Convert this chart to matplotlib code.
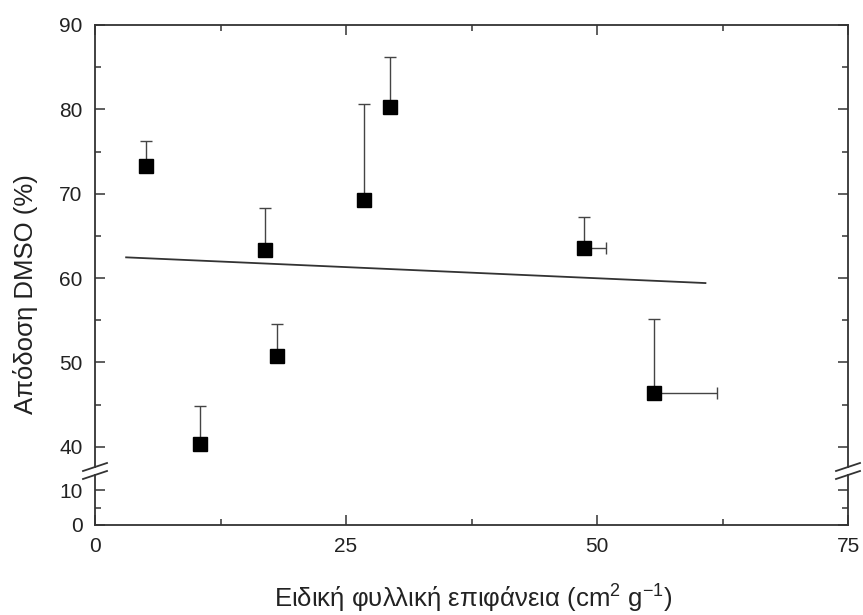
import matplotlib
matplotlib.use('Agg')
import matplotlib.pyplot as plt
from matplotlib.lines import Line2D
from matplotlib.ticker import MultipleLocator

plt.rcParams['font.family'] = ['Liberation Sans', 'DejaVu Sans']
plt.rcParams['mathtext.default'] = 'regular'

# Data
leaf_area = [5.05, 10.5, 16.9, 18.1, 26.8, 29.4, 48.7, 55.7]
dmso_yield = [73.3, 40.3, 63.3, 50.8, 69.3, 80.3, 63.5, 46.4]
yield_err_up = [3.0, 4.5, 5.0, 3.8, 11.3, 5.9, 3.7, 8.7]
area_err_right = [0, 0, 0, 0, 0, 0, 2.2, 6.3]
fit_x = [3.1, 60.8]
fit_y = [62.45, 59.4]

W, H = 863, 615
fig = plt.figure(figsize=(W / 100, H / 100), dpi=100)

def fx(px):
    return px / W

def fy(py):
    return 1 - py / H

left, right = 95, 848
ax_top = fig.add_axes([fx(left), fy(467), fx(right - left), fy(25) - fy(467)])
ax_bot = fig.add_axes([fx(left), fy(525), fx(right - left), fy(475) - fy(525)])

spine_col = '#333333'
for ax in (ax_top, ax_bot):
    ax.set_xlim(0, 75)
    for s in ax.spines.values():
        s.set_linewidth(1.3)
        s.set_color(spine_col)
    ax.tick_params(which='both', direction='in', left=True, right=True,
                   color=spine_col, width=1.1, labelsize=15, labelcolor='#222222', pad=9)
    ax.tick_params(which='major', length=7)
    ax.tick_params(which='minor', length=4)
    ax.xaxis.set_major_locator(MultipleLocator(25))
    ax.xaxis.set_minor_locator(MultipleLocator(12.5))

ax_top.set_ylim(37.59, 90)
ax_top.yaxis.set_major_locator(MultipleLocator(10))
ax_top.yaxis.set_minor_locator(MultipleLocator(5))
ax_top.spines['bottom'].set_visible(False)
ax_top.tick_params(which='both', bottom=False, top=True, labelbottom=False)

ax_bot.set_ylim(0, 14.29)
ax_bot.set_yticks([0, 10])
ax_bot.yaxis.set_minor_locator(MultipleLocator(5))
ax_bot.spines['top'].set_visible(False)
ax_bot.tick_params(which='both', top=False, bottom=True)

# fit line and data with one-sided error bars
ax_top.plot(fit_x, fit_y, color='#333333', lw=1.3)
ax_top.errorbar(leaf_area, dmso_yield,
                yerr=[[0] * len(yield_err_up), yield_err_up],
                xerr=[[0] * len(area_err_right), area_err_right],
                fmt='s', ms=10, mfc='black', mec='black',
                ecolor='#444444', elinewidth=1.0, capsize=4.3, capthick=1.0)

# axis break marks
for x0 in (left, right):
    for yc in (467, 475):
        fig.add_artist(Line2D([fx(x0 - 12), fx(x0 + 12)], [fy(yc + 4), fy(yc - 4)],
                              transform=fig.transFigure, color=spine_col, lw=1.3))

fig.text(fx(26), fy(294), 'Απόδοση DMSO (%)', rotation=90, ha='center', va='center',
         fontsize=18.5, color='#222222')
fig.text(fx(473), fy(608), 'Ειδική φυλλική επιφάνεια (cm$^{2}$ g$^{-1}$)',
         ha='center', va='baseline', fontsize=18.5, color='#222222')

fig.savefig('out.png', dpi=100)
